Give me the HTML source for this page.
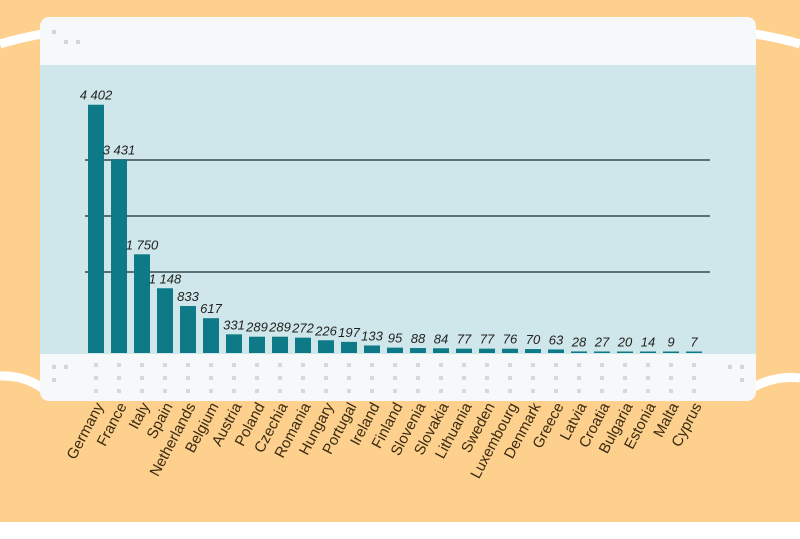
<!DOCTYPE html>
<html><head><style>
body{margin:0;width:800px;height:534px;overflow:hidden;background:#fff}
</style></head><body>
<svg width="800" height="534" viewBox="0 0 800 534" xmlns="http://www.w3.org/2000/svg" font-family="Liberation Sans, sans-serif">
<rect x="0" y="0" width="800" height="522" fill="#fdd08e"/>
<path d="M0 44 Q20 38 42 34" stroke="#fff" stroke-width="9" fill="none"/>
<path d="M0 376 Q25 375 45 390" stroke="#fff" stroke-width="9" fill="none"/>
<path d="M800 44 Q780 38 755 34" stroke="#fff" stroke-width="9" fill="none"/>
<path d="M800 378 Q775 375 752 388" stroke="#fff" stroke-width="9" fill="none"/>
<rect x="40" y="17" width="716" height="384" rx="9" fill="#f7f8f9"/>
<rect x="40" y="65" width="716" height="289" fill="#cfe7ea"/>
<g fill="#d5d5d5">
<rect x="52" y="30" width="4" height="4"/><rect x="64" y="40" width="4" height="4"/><rect x="76" y="40" width="4" height="4"/>
<rect x="52" y="365" width="4" height="4"/><rect x="64" y="365" width="4" height="4"/><rect x="52" y="378" width="4" height="4"/>
<rect x="740" y="365" width="4" height="4"/><rect x="728" y="365" width="4" height="4"/><rect x="740" y="378" width="4" height="4"/>
</g>
<g stroke="#5a6f76" stroke-width="2">
<line x1="85" y1="160" x2="710" y2="160"/>
<line x1="85" y1="216" x2="710" y2="216"/>
<line x1="85" y1="272" x2="710" y2="272"/>
</g>
<g id="bars" fill="#0f7a87"></g>
<g id="vals" font-size="13" font-style="italic" fill="#222" text-anchor="middle"></g>
<g id="labs" font-size="15" fill="#3a2a10" text-anchor="end"></g>
<g id="dots" fill="#d8d8d8"></g>
</svg>
<script>
var d=[["Germany",4402,"4 402"],["France",3431,"3 431"],["Italy",1750,"1 750"],["Spain",1148,"1 148"],["Netherlands",833],["Belgium",617],["Austria",331],["Poland",289],["Czechia",289],["Romania",272],["Hungary",226],["Portugal",197],["Ireland",133],["Finland",95],["Slovenia",88],["Slovakia",84],["Lithuania",77],["Sweden",77],["Luxembourg",76],["Denmark",70],["Greece",63],["Latvia",28],["Croatia",27],["Bulgaria",20],["Estonia",14],["Malta",9],["Cyprus",7]];
var ns="http://www.w3.org/2000/svg",b=document.getElementById("bars"),v=document.getElementById("vals"),l=document.getElementById("labs"),dt=document.getElementById("dots");
function el(t,a,p,tx){var e=document.createElementNS(ns,t);for(var k in a)e.setAttribute(k,a[k]);if(tx)e.textContent=tx;p.appendChild(e);}
d.forEach(function(r,i){var x=88+i*23,h=Math.max(r[1]*0.0564,1.5),top=353-h;
el("rect",{x:x,y:top,width:16,height:h},b);
el("text",{x:x+8,y:top-5},v,r[2]||String(r[1]));
el("text",{x:0,y:0,transform:"translate("+(x+16)+",406) rotate(-62)"},l,r[0]);
for(var j=0;j<3;j++)el("rect",{x:x+6,y:363+j*13,width:4,height:4},dt);
});
</script>
</body></html>
